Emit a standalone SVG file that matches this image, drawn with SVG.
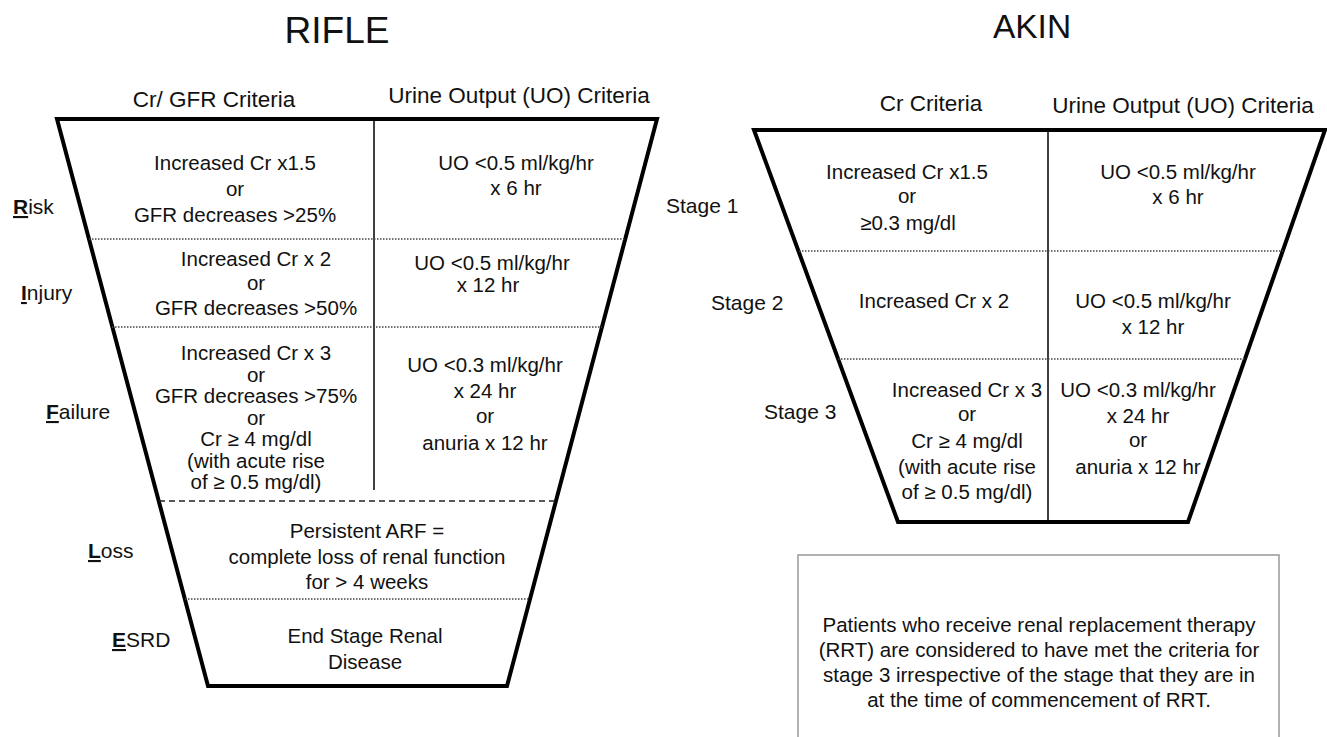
<svg xmlns="http://www.w3.org/2000/svg" width="1327" height="737" viewBox="0 0 1327 737">
<style>
text{font-family:"Liberation Sans",Arial,sans-serif;fill:#111;}
.t{font-size:20.5px;text-anchor:middle;}
.h{font-size:22.5px;text-anchor:middle;}
.lb{font-size:21px;}
.ti{text-anchor:middle;}
.funnel{fill:none;stroke:#000;stroke-width:4;stroke-linejoin:miter;}
.div{stroke:#000;stroke-width:1.5;}
.dot{stroke:#444;stroke-width:1.3;stroke-dasharray:1.5 1.5;}
.dash{stroke:#222;stroke-width:1.6;stroke-dasharray:6 4;}
.b{font-weight:bold;text-decoration:underline;}
</style>
<rect width="1327" height="737" fill="#fff"/>

<g id="rifle">
<text class="ti" x="337" y="43" font-size="37">RIFLE</text>
<text class="h" x="214" y="107">Cr/ GFR Criteria</text>
<text class="h" x="519" y="103">Urine Output (UO) Criteria</text>
<polygon class="funnel" points="57,119 657,119 507,686 208,686"/>
<line class="div" x1="374" y1="119" x2="374" y2="490"/>
<line class="dot" x1="89" y1="239" x2="625" y2="239"/>
<line class="dot" x1="112" y1="327" x2="602" y2="327"/>
<line class="dash" x1="159" y1="501" x2="556" y2="501"/>
<line class="dot" x1="185" y1="599" x2="530" y2="599"/>
</g>

<g id="rifle-risk">
<text class="lb" x="13" y="214"><tspan class="b">R</tspan>isk</text>
<text class="t" x="235" y="170">Increased Cr x1.5</text>
<text class="t" x="235" y="196">or</text>
<text class="t" x="235" y="222">GFR decreases &gt;25%</text>
<text class="t" x="516" y="170">UO &lt;0.5 ml/kg/hr</text>
<text class="t" x="516" y="195">x 6 hr</text>
</g>

<g id="rifle-injury">
<text class="lb" x="21" y="300"><tspan class="b">I</tspan>njury</text>
<text class="t" x="256" y="266">Increased Cr x 2</text>
<text class="t" x="256" y="290">or</text>
<text class="t" x="256" y="315">GFR decreases &gt;50%</text>
<text class="t" x="492" y="270">UO &lt;0.5 ml/kg/hr</text>
<text class="t" x="488" y="292">x 12 hr</text>
</g>

<g id="rifle-failure">
<text class="lb" x="46" y="419"><tspan class="b">F</tspan>ailure</text>
<text class="t" x="256" y="360">Increased Cr x 3</text>
<text class="t" x="256" y="381.5">or</text>
<text class="t" x="256" y="403">GFR decreases &gt;75%</text>
<text class="t" x="256" y="424.5">or</text>
<text class="t" x="256" y="446">Cr ≥ 4 mg/dl</text>
<text class="t" x="256" y="467.5">(with acute rise</text>
<text class="t" x="256" y="489">of ≥ 0.5 mg/dl)</text>
<text class="t" x="485" y="372">UO &lt;0.3 ml/kg/hr</text>
<text class="t" x="485" y="398">x 24 hr</text>
<text class="t" x="485" y="423">or</text>
<text class="t" x="485" y="450">anuria x 12 hr</text>
</g>

<g id="rifle-loss">
<text class="lb" x="88" y="558"><tspan class="b">L</tspan>oss</text>
<text class="t" x="367" y="538">Persistent ARF =</text>
<text class="t" x="367" y="564">complete loss of renal function</text>
<text class="t" x="367" y="589">for &gt; 4 weeks</text>
</g>

<g id="rifle-esrd">
<text class="lb" x="112" y="647"><tspan class="b">E</tspan>SRD</text>
<text class="t" x="365" y="643">End Stage Renal</text>
<text class="t" x="365" y="669">Disease</text>
</g>

<g id="akin">
<text class="ti" x="1032" y="38" font-size="33.5">AKIN</text>
<text class="h" x="931" y="111">Cr Criteria</text>
<text class="h" x="1183" y="113">Urine Output (UO) Criteria</text>
<polygon class="funnel" points="754,130 1325,130 1188,522 898,522"/>
<line class="div" x1="1048" y1="130" x2="1048" y2="522"/>
<line class="dot" x1="799" y1="251" x2="1283" y2="251"/>
<line class="dot" x1="838" y1="359" x2="1245" y2="359"/>
</g>

<g id="akin-stage1">
<text class="lb" x="666" y="213">Stage 1</text>
<text class="t" x="907" y="179">Increased Cr x1.5</text>
<text class="t" x="907" y="203">or</text>
<text class="t" x="908" y="230">≥0.3 mg/dl</text>
<text class="t" x="1178" y="179">UO &lt;0.5 ml/kg/hr</text>
<text class="t" x="1178" y="204">x 6 hr</text>
</g>

<g id="akin-stage2">
<text class="lb" x="711" y="310">Stage 2</text>
<text class="t" x="934" y="308">Increased Cr x 2</text>
<text class="t" x="1153" y="308">UO &lt;0.5 ml/kg/hr</text>
<text class="t" x="1153" y="334">x 12 hr</text>
</g>

<g id="akin-stage3">
<text class="lb" x="764" y="419">Stage 3</text>
<text class="t" x="967" y="397">Increased Cr x 3</text>
<text class="t" x="967" y="421">or</text>
<text class="t" x="967" y="448">Cr ≥ 4 mg/dl</text>
<text class="t" x="967" y="474">(with acute rise</text>
<text class="t" x="967" y="499">of ≥ 0.5 mg/dl)</text>
<text class="t" x="1138" y="397">UO &lt;0.3 ml/kg/hr</text>
<text class="t" x="1138" y="423">x 24 hr</text>
<text class="t" x="1138" y="447">or</text>
<text class="t" x="1138" y="474">anuria x 12 hr</text>
</g>

<g id="rrt-note">
<rect x="798" y="555" width="481" height="200" fill="none" stroke="#999" stroke-width="1.5"/>
<text class="t" x="1039" y="632">Patients who receive renal replacement therapy</text>
<text class="t" x="1039" y="657">(RRT) are considered to have met the criteria for</text>
<text class="t" x="1039" y="682">stage 3 irrespective of the stage that they are in</text>
<text class="t" x="1039" y="707">at the time of commencement of RRT.</text>
</g>

<g id="connectors"></g>
</svg>
